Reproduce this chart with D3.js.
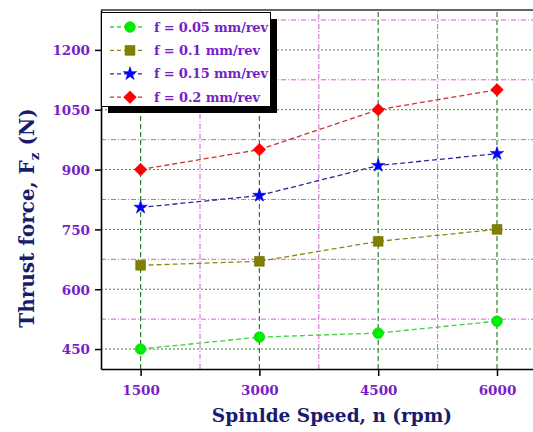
<!DOCTYPE html>
<html>
<head>
<meta charset="utf-8">
<script src="https://cdn.jsdelivr.net/npm/d3@7"></script>
<style>
  body { margin: 0; background: #fff; }
  svg { display: block; }
</style>
</head>
<body>
<svg width="533" height="432"></svg>
<script>
const speeds = [1500, 3000, 4500, 6000];
const feedLabels = ["f = 0.05 mm/rev", "f = 0.1 mm/rev", "f = 0.15 mm/rev", "f = 0.2 mm/rev"];
const force005 = [450, 480, 490, 520];
const force01 = [660, 670, 720, 750];
const force015 = [805, 835, 910, 940];
const force02 = [900, 950, 1050, 1100];
const yTicks = [450, 600, 750, 900, 1050, 1200];
const yMinor = [525, 675, 825, 975, 1125, 1275];
const xMinor = [2250, 3750, 5250];

const series = [
  { label: feedLabels[0], values: force005, line: "#3fcf3f", fill: "#00ee00", stroke: "#00cc00", symbol: d3.symbolCircle, size: 90, rot: 0 },
  { label: feedLabels[1], values: force01, line: "#8a8a10", fill: "#808000", stroke: "#6a6a00", symbol: d3.symbolSquare, size: 95, rot: 0 },
  { label: feedLabels[2], values: force015, line: "#2a2a9a", fill: "#0000ff", stroke: "#0000dd", symbol: d3.symbolStar, size: 55, rot: 0 },
  { label: feedLabels[3], values: force02, line: "#cc3333", fill: "#ff0000", stroke: "#ee0000", symbol: d3.symbolSquare, size: 80, rot: 45 }
];

const svg = d3.select("svg");
const margin = { left: 101, top: 10, bottom: 63 };
const height = 432;

const x = d3.scaleLinear().domain([1000, 6500]).range([margin.left, 536.6]);
const y = d3.scaleLinear().domain([400, 1300]).range([height - margin.bottom, margin.top]);

svg.append("defs").append("clipPath").attr("id", "plot")
  .append("rect")
  .attr("x", x(1000)).attr("y", y(1300))
  .attr("width", x(6500) - x(1000)).attr("height", y(400) - y(1300));

const grid = svg.append("g").attr("clip-path", "url(#plot)");

// minor grid, magenta dash-dot
grid.selectAll("line.ymin")
  .data(yMinor)
  .join("line")
  .attr("x1", x(1000)).attr("x2", x(6500))
  .attr("y1", d => y(d)).attr("y2", d => y(d))
  .attr("stroke", "#d65cd6")
  .attr("stroke-width", 1)
  .attr("stroke-dasharray", "5,2,1,2");

grid.selectAll("line.xmin")
  .data(xMinor)
  .join("line")
  .attr("x1", d => x(d)).attr("x2", d => x(d))
  .attr("y1", y(400)).attr("y2", y(1300))
  .attr("stroke", "#d65cd6")
  .attr("stroke-width", 1)
  .attr("stroke-dasharray", "5,2,1,2");

// major grid, green dashed
grid.selectAll("line.ymaj")
  .data(yTicks)
  .join("line")
  .attr("x1", x(1000)).attr("x2", x(6500))
  .attr("y1", d => y(d)).attr("y2", d => y(d))
  .attr("stroke", "#3b8a3b")
  .attr("stroke-width", 1)
  .attr("stroke-dasharray", "2,2");

grid.selectAll("line.xmaj")
  .data(speeds)
  .join("line")
  .attr("x1", d => x(d)).attr("x2", d => x(d))
  .attr("y1", y(400)).attr("y2", y(1300))
  .attr("stroke", "#2f7d2f")
  .attr("stroke-width", 1.2)
  .attr("stroke-dasharray", "5,3");

// frame top
svg.append("line")
  .attr("x1", x(1000)).attr("x2", 533)
  .attr("y1", y(1300)).attr("y2", y(1300))
  .attr("stroke", "#333").attr("stroke-width", 1.5);

// axes
const xAxis = svg.append("g")
  .attr("transform", `translate(0,${y(400)})`)
  .call(d3.axisBottom(x).tickValues(speeds).tickFormat(d3.format("d"))
    .tickSize(7).tickSizeOuter(0).tickPadding(9));
const yAxis = svg.append("g")
  .attr("transform", `translate(${x(1000)},0)`)
  .call(d3.axisLeft(y).tickValues(yTicks).tickFormat(d3.format("d"))
    .tickSize(6).tickSizeOuter(0).tickPadding(5));

[xAxis, yAxis].forEach(a => {
  a.select(".domain").attr("stroke", "#000").attr("stroke-width", 1.6);
  a.selectAll(".tick line").attr("stroke", "#000").attr("stroke-width", 1.5);
  a.selectAll(".tick text")
    .attr("fill", "#7a1fc8")
    .attr("font-family", "DejaVu Serif")
    .attr("font-weight", "bold")
    .attr("font-size", 13.5);
});
yAxis.selectAll(".tick text").attr("dy", "0.36em");

// lines and markers
const line = d3.line()
  .x((d, i) => x(speeds[i]))
  .y(d => y(d));

const plot = svg.append("g");
series.forEach(s => {
  plot.append("path")
    .datum(s.values)
    .attr("d", line)
    .attr("fill", "none")
    .attr("stroke", s.line)
    .attr("stroke-width", 1.3)
    .attr("stroke-dasharray", "5,3");
  plot.selectAll(null)
    .data(s.values)
    .join("path")
    .attr("transform", (d, i) => `translate(${x(speeds[i])},${y(d)}) rotate(${s.rot})`)
    .attr("d", d3.symbol(s.symbol, s.size))
    .attr("fill", s.fill)
    .attr("stroke", s.stroke)
    .attr("stroke-width", 0.6);
});

// legend
const legend = svg.append("g");
legend.append("rect")
  .attr("x", 108).attr("y", 19).attr("width", 169).attr("height", 94)
  .attr("fill", "#000");
legend.append("rect")
  .attr("x", 101.5).attr("y", 12.5).attr("width", 169).attr("height", 94)
  .attr("fill", "#fff").attr("stroke", "#000").attr("stroke-width", 1);

const item = legend.selectAll("g.item")
  .data(series)
  .join("g")
  .attr("transform", (d, i) => `translate(0,${27 + i * 23.4})`);
item.append("line")
  .attr("x1", 110).attr("x2", 143)
  .attr("stroke", d => d.line)
  .attr("stroke-width", 1.3)
  .attr("stroke-dasharray", "4,3");
item.append("path")
  .attr("transform", d => `translate(130,0) rotate(${d.rot})`)
  .attr("d", d => d3.symbol(d.symbol, d.size)())
  .attr("fill", d => d.fill)
  .attr("stroke", d => d.stroke)
  .attr("stroke-width", 0.6);
item.append("text")
  .attr("x", 154).attr("dy", "0.35em")
  .attr("fill", "#7a1fc8")
  .attr("font-family", "DejaVu Serif")
  .attr("font-weight", "bold")
  .attr("font-size", 13)
  .attr("textLength", d => d.label.length > 14 ? 114 : 106)
  .text(d => d.label);

// axis titles
svg.append("text")
  .attr("x", 332).attr("y", 422)
  .attr("text-anchor", "middle")
  .attr("fill", "#1a1a70")
  .attr("font-family", "DejaVu Serif")
  .attr("font-weight", "bold")
  .attr("font-size", 18.5)
  .text("Spinlde Speed, n (rpm)");

const yt = svg.append("text")
  .attr("transform", "translate(34,218) rotate(-90)")
  .attr("text-anchor", "middle")
  .attr("fill", "#1a1a70")
  .attr("font-family", "DejaVu Serif")
  .attr("font-weight", "bold")
  .attr("font-size", 20);
yt.append("tspan").text("Thrust force, F");
yt.append("tspan").attr("font-size", 13.5).attr("dy", 5).text("z");
yt.append("tspan").attr("dy", -5).text(" (N)");
</script>
</body>
</html>
